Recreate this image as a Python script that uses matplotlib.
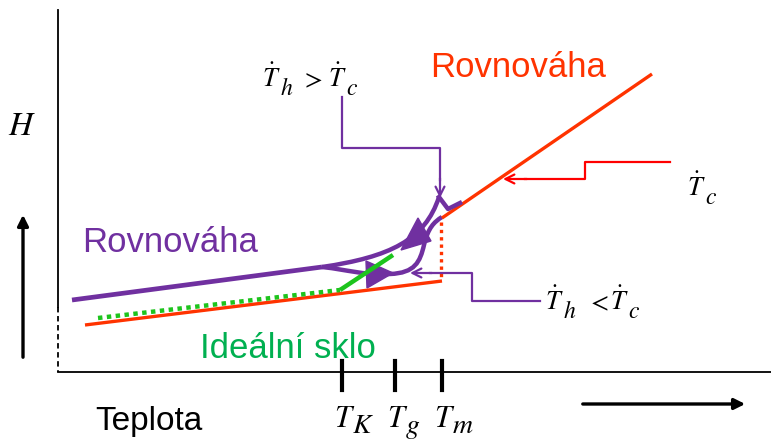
import matplotlib
matplotlib.use("Agg")
import matplotlib.pyplot as plt
from matplotlib.path import Path
from matplotlib.patches import PathPatch, Polygon

plt.rcParams['font.family'] = ['Liberation Sans', 'DejaVu Sans']
plt.rcParams['mathtext.fontset'] = 'stix'

PURPLE = '#7030A0'
RED = '#FF3300'
GREEN = '#1DC41D'
GREEN_TXT = '#00B050'

# schematic curves, in picture units (x right, y down)
glass_x = [72, 322]
glass_y = [300, 267]
heat_fast = [(322, 267), (390, 257), (425, 240), (439, 197)]   # Th > Tc branch
overshoot_x = [439, 448, 460]
overshoot_y = [197, 209, 203]
heat_slow = [(322, 267), (350, 270), (360, 275), (390, 274),
             (415, 273), (420, 262), (424, 245),
             (428, 228), (434, 222), (442, 217)]                  # Th < Tc branch
liquid_x = [442, 652]
liquid_y = [218, 74]
crystal_x = [85, 442]
crystal_y = [325, 281]
ideal_dot_x = [98, 340]
ideal_dot_y = [318, 290]
ideal_x = [340, 393]
ideal_y = [290, 255]
tm_drop_x = [441, 441]
tm_drop_y = [222, 279]

tri_up = [(418, 218), (401, 250), (431, 241)]
tri_right = [(366, 261), (367, 288), (393, 273)]

ticks_x = [342, 395, 442]
tick_subs = ['K', 'g', 'm']

fig = plt.figure(figsize=(7.71, 4.40), dpi=100)
ax = fig.add_axes([0, 0, 1, 1])
ax.set_xlim(0, 771)
ax.set_ylim(440, 0)
ax.axis('off')


def tsym(x, y, sub, size, dot=True, sub_dx=18, sub_dy=8):
    # italic T (optionally dotted) with a large, low subscript
    ax.text(x, y, r'$\dot{T}$' if dot else r'$T$', fontsize=size,
            ha='left', va='baseline')
    ax.text(x + sub_dx, y + sub_dy, '$%s$' % sub, fontsize=size - 2,
            ha='left', va='baseline')


# axes frame
ax.plot([58, 58], [10, 307], color='black', lw=1.3)
ax.plot([58, 58], [307, 372], color='black', lw=1.3, ls=(0, (3, 2)))
ax.plot([58, 771], [372, 372], color='black', lw=1.3)
for tx in ticks_x:
    ax.plot([tx, tx], [361, 390], color='black', lw=3)
for tx, sub in zip(ticks_x, tick_subs):
    tsym(tx - 8, 427, sub, 22, dot=False, sub_dx=18, sub_dy=6)

ax.annotate('', xy=(748, 404), xytext=(580, 404),
            arrowprops=dict(arrowstyle='-|>', lw=2.4, color='black',
                            mutation_scale=16))
ax.annotate('', xy=(23, 212), xytext=(23, 360),
            arrowprops=dict(arrowstyle='-|>', lw=2.4, color='black',
                            mutation_scale=16))
ax.text(8, 135, r'$H$', fontsize=24, ha='left', va='baseline')
ax.text(95, 430, 'Teplota', fontsize=24, ha='left', va='baseline')

# equilibrium / crystal lines
ax.plot(crystal_x, crystal_y, color=RED, lw=2.4, solid_capstyle='butt')
ax.plot(liquid_x, liquid_y, color=RED, lw=2.4, solid_capstyle='butt')
ax.plot(tm_drop_x, tm_drop_y, color=RED, lw=2.4, ls=(0, (1, 1.2)))

# ideal glass
ax.plot(ideal_dot_x, ideal_dot_y, color=GREEN, lw=3.2, ls=(0, (1, 1)))
ax.plot(ideal_x, ideal_y, color=GREEN, lw=3.2, solid_capstyle='butt')

# purple curves
ax.plot(glass_x, glass_y, color=PURPLE, lw=3.4, solid_capstyle='butt')
codes = [Path.MOVETO] + [Path.CURVE4] * 3
ax.add_patch(PathPatch(Path(heat_fast, codes), fc='none', ec=PURPLE, lw=3.2))
ax.plot(overshoot_x, overshoot_y, color=PURPLE, lw=3.2)
codes2 = [Path.MOVETO] + [Path.CURVE4] * 9
ax.add_patch(PathPatch(Path(heat_slow, codes2), fc='none', ec=PURPLE, lw=3.2))
ax.add_patch(Polygon(tri_up, closed=True, fc=PURPLE, ec=PURPLE))
ax.add_patch(Polygon(tri_right, closed=True, fc=PURPLE, ec=PURPLE))

# callouts
ax.plot([342, 342, 440, 440], [97, 148, 148, 180], color=PURPLE, lw=1.6)
ax.annotate('', xy=(440, 198), xytext=(440, 178),
            arrowprops=dict(arrowstyle='->', lw=1.6, color=PURPLE,
                            mutation_scale=16, shrinkA=0, shrinkB=0))
ax.plot([540, 472, 472, 430], [301, 301, 273, 273], color=PURPLE, lw=1.6)
ax.annotate('', xy=(410, 273), xytext=(432, 273),
            arrowprops=dict(arrowstyle='->', lw=1.6, color=PURPLE,
                            mutation_scale=16, shrinkA=0, shrinkB=0))
ax.plot([670, 585, 585, 525], [162, 162, 179, 179], color='#FF0000', lw=1.6)
ax.annotate('', xy=(503, 179), xytext=(527, 179),
            arrowprops=dict(arrowstyle='->', lw=1.6, color='#FF0000',
                            mutation_scale=16, shrinkA=0, shrinkB=0))

tsym(262, 87, 'h', 19)
ax.text(301, 87, '$>$', fontsize=19, ha='left', va='baseline')
tsym(328, 87, 'c', 19)
tsym(545, 310, 'h', 19)
ax.text(587, 310, '$<$', fontsize=19, ha='left', va='baseline')
tsym(610, 310, 'c', 19)
tsym(687, 196, 'c', 19)

ax.text(430, 77, 'Rovnováha', fontsize=25, color=RED, ha='left', va='baseline')
ax.text(82, 252, 'Rovnováha', fontsize=25, color=PURPLE, ha='left', va='baseline')
ax.text(200, 358, 'Ideální sklo', fontsize=25, color=GREEN_TXT, ha='left', va='baseline')

fig.savefig('out.png', dpi=100)
